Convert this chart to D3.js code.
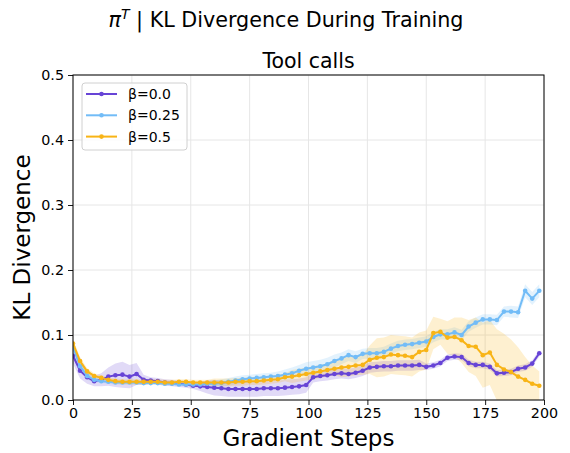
<!DOCTYPE html>
<html lang="en">
  <head>
    <meta charset="utf-8" />
    <title>KL Divergence During Training</title>
    <script src="https://d3js.org/d3.v7.min.js"></script>
    <style>
      body { margin: 0; background: #fff; }
      text { font-family: "DejaVu Sans", sans-serif; fill: #000; }
    </style>
  </head>
  <body>
    <script>
      // gradient steps where a point was logged
      var steps = [0, 3, 6, 9, 12, 15, 18, 21, 24, 27, 30, 33, 36, 39, 42, 45, 48, 51, 54, 57,
        60, 63, 66, 69, 72, 75, 78, 81, 84, 87, 90, 93, 96, 99, 102, 105, 108, 111, 114, 117,
        120, 123, 126, 129, 132, 135, 138, 141, 144, 147, 150, 153, 156, 159, 162, 165, 168, 171, 174, 177,
        180, 183, 186, 189, 192, 195, 198];

      var labels = ["β=0.0", "β=0.25", "β=0.5"];
      var xTicks = [0, 25, 50, 75, 100, 125, 150, 175, 200];
      var yTicks = [0.0, 0.1, 0.2, 0.3, 0.4, 0.5];

      var beta0 = [0.068, 0.045, 0.035, 0.029, 0.031, 0.036, 0.038, 0.039, 0.036, 0.040,
        0.031, 0.030, 0.029, 0.027, 0.026, 0.025, 0.024, 0.022, 0.021, 0.020,
        0.019, 0.018, 0.017, 0.017, 0.017, 0.017, 0.017, 0.018, 0.018, 0.018,
        0.019, 0.020, 0.021, 0.023, 0.035, 0.037, 0.038, 0.040, 0.041, 0.040,
        0.042, 0.045, 0.050, 0.051, 0.052, 0.052, 0.053, 0.053, 0.053, 0.054,
        0.051, 0.053, 0.057, 0.065, 0.067, 0.066, 0.057, 0.054, 0.054, 0.051,
        0.041, 0.042, 0.043, 0.048, 0.050, 0.056, 0.072];
      var beta0Std = [0.012, 0.012, 0.010, 0.008, 0.010, 0.014, 0.018, 0.020, 0.018, 0.017,
        0.008, 0.005, 0.005, 0.005, 0.005, 0.005, 0.005, 0.005, 0.007, 0.010,
        0.012, 0.012, 0.012, 0.012, 0.012, 0.012, 0.012, 0.012, 0.012, 0.012,
        0.012, 0.012, 0.012, 0.012, 0.008, 0.008, 0.008, 0.008, 0.008, 0.008,
        0.008, 0.008, 0.008, 0.008, 0.008, 0.008, 0.008, 0.008, 0.008, 0.008,
        0.005, 0.005, 0.005, 0.005, 0.005, 0.005, 0.005, 0.005, 0.005, 0.005,
        0.005, 0.005, 0.005, 0.005, 0.005, 0.005, 0.005];

      var beta25 = [0.082, 0.052, 0.037, 0.031, 0.029, 0.028, 0.027, 0.027, 0.027, 0.027,
        0.026, 0.026, 0.026, 0.025, 0.025, 0.024, 0.024, 0.024, 0.024, 0.025,
        0.025, 0.026, 0.028, 0.030, 0.032, 0.033, 0.034, 0.035, 0.036, 0.037,
        0.039, 0.041, 0.045, 0.048, 0.050, 0.052, 0.055, 0.060, 0.064, 0.069,
        0.066, 0.071, 0.072, 0.072, 0.074, 0.079, 0.083, 0.085, 0.086, 0.088,
        0.090, 0.097, 0.101, 0.101, 0.104, 0.100, 0.113, 0.119, 0.124, 0.124,
        0.123, 0.136, 0.136, 0.135, 0.168, 0.156, 0.168];
      var beta25Std = [0.008, 0.008, 0.006, 0.004, 0.003, 0.003, 0.003, 0.003, 0.003, 0.003,
        0.003, 0.003, 0.003, 0.003, 0.003, 0.003, 0.003, 0.003, 0.003, 0.004,
        0.005, 0.006, 0.006, 0.006, 0.006, 0.006, 0.006, 0.006, 0.006, 0.007,
        0.008, 0.009, 0.009, 0.010, 0.010, 0.010, 0.010, 0.010, 0.009, 0.009,
        0.009, 0.008, 0.008, 0.008, 0.008, 0.008, 0.008, 0.008, 0.008, 0.008,
        0.008, 0.008, 0.008, 0.008, 0.008, 0.008, 0.008, 0.008, 0.008, 0.008,
        0.008, 0.008, 0.009, 0.009, 0.010, 0.010, 0.010];

      var beta5 = [0.087, 0.060, 0.044, 0.037, 0.034, 0.031, 0.029, 0.028, 0.028, 0.028,
        0.028, 0.028, 0.028, 0.027, 0.027, 0.028, 0.028, 0.027, 0.027, 0.027,
        0.027, 0.027, 0.027, 0.028, 0.028, 0.029, 0.029, 0.030, 0.031, 0.032,
        0.035, 0.036, 0.038, 0.040, 0.042, 0.044, 0.046, 0.048, 0.050, 0.051,
        0.053, 0.054, 0.062, 0.065, 0.066, 0.070, 0.069, 0.068, 0.066, 0.074,
        0.077, 0.103, 0.105, 0.096, 0.097, 0.092, 0.083, 0.082, 0.069, 0.073,
        0.054, 0.047, 0.043, 0.036, 0.031, 0.025, 0.022];
      var beta5Std = [0.006, 0.006, 0.005, 0.004, 0.004, 0.004, 0.004, 0.004, 0.004, 0.004,
        0.004, 0.004, 0.004, 0.004, 0.004, 0.004, 0.004, 0.004, 0.004, 0.004,
        0.006, 0.006, 0.006, 0.006, 0.006, 0.006, 0.006, 0.006, 0.006, 0.006,
        0.006, 0.010, 0.010, 0.010, 0.010, 0.010, 0.010, 0.010, 0.015, 0.015,
        0.015, 0.015, 0.022, 0.030, 0.030, 0.030, 0.030, 0.030, 0.030, 0.030,
        0.030, 0.025, 0.020, 0.025, 0.030, 0.035, 0.040, 0.045, 0.050, 0.050,
        0.055, 0.055, 0.050, 0.045, 0.035, 0.028, 0.022];

      var colors = ["#6744d6", "#72bcf7", "#f8b416"];
      var series = [
        { name: labels[0], mean: beta0, std: beta0Std, color: colors[0] },
        { name: labels[1], mean: beta25, std: beta25Std, color: colors[1] },
        { name: labels[2], mean: beta5, std: beta5Std, color: colors[2] }
      ];

      var width = 570, height = 453;
      var margin = { top: 75, right: 26, bottom: 53, left: 73 };

      var svg = d3.select("body").append("svg")
        .attr("width", width)
        .attr("height", height);

      var x = d3.scaleLinear().domain([0, 200]).range([margin.left, width - margin.right]);
      var y = d3.scaleLinear().domain([0, 0.5]).range([height - margin.bottom, margin.top]);

      svg.append("clipPath").attr("id", "plot")
        .append("rect")
        .attr("x", margin.left).attr("y", margin.top)
        .attr("width", x(200) - x(0)).attr("height", y(0) - y(0.5));

      // grid
      var grid = svg.append("g");
      grid.selectAll(".gx").data(xTicks).enter().append("line")
        .attr("x1", function (d) { return x(d); }).attr("x2", function (d) { return x(d); })
        .attr("y1", y(0)).attr("y2", y(0.5))
        .attr("stroke", "#e6e6e6").attr("stroke-width", 1);
      grid.selectAll(".gy").data(yTicks).enter().append("line")
        .attr("y1", function (d) { return y(d); }).attr("y2", function (d) { return y(d); })
        .attr("x1", x(0)).attr("x2", x(200))
        .attr("stroke", "#e6e6e6").attr("stroke-width", 1);

      var plot = svg.append("g").attr("clip-path", "url(#plot)");

      var area = d3.area()
        .x(function (d, i) { return x(steps[i]); })
        .y0(function (d) { return y(d[0] - d[1]); })
        .y1(function (d) { return y(d[0] + d[1]); });

      var line = d3.line()
        .x(function (d, i) { return x(steps[i]); })
        .y(function (d) { return y(d); });

      series.forEach(function (s) {
        var pairs = s.mean.map(function (m, i) { return [m, s.std[i]]; });
        plot.append("path")
          .attr("d", area(pairs))
          .attr("fill", s.color)
          .attr("fill-opacity", 0.2);
      });

      series.forEach(function (s) {
        var g = plot.append("g");
        g.append("path")
          .attr("d", line(s.mean))
          .attr("fill", "none")
          .attr("stroke", s.color)
          .attr("stroke-width", 2);
        g.selectAll("circle").data(s.mean).enter().append("circle")
          .attr("cx", function (d, i) { return x(steps[i]); })
          .attr("cy", function (d) { return y(d); })
          .attr("r", 2.3)
          .attr("fill", s.color);
      });

      // axes
      var xAxis = svg.append("g")
        .attr("transform", "translate(0," + y(0) + ")")
        .call(d3.axisBottom(x).tickValues(xTicks).tickSize(5).tickPadding(3));
      var yAxis = svg.append("g")
        .attr("transform", "translate(" + x(0) + ",0)")
        .call(d3.axisLeft(y).tickValues(yTicks).tickSize(5).tickPadding(4).tickFormat(d3.format(".1f")));
      [xAxis, yAxis].forEach(function (a) {
        a.select(".domain").remove();
        a.selectAll("text").attr("font-size", 14.3).attr("font-family", "DejaVu Sans");
        a.selectAll("line").attr("stroke", "#000").attr("stroke-width", 0.9);
      });

      svg.append("rect")
        .attr("x", x(0)).attr("y", y(0.5))
        .attr("width", x(200) - x(0)).attr("height", y(0) - y(0.5))
        .attr("fill", "none").attr("stroke", "#000").attr("stroke-width", 1);

      // titles
      var sup = svg.append("text")
        .attr("x", 286).attr("y", 27)
        .attr("text-anchor", "middle")
        .attr("font-size", 20.7);
      sup.append("tspan").attr("font-style", "italic").text("π");
      sup.append("tspan").attr("font-style", "italic").attr("font-size", 14).attr("dy", -8).text("T");
      sup.append("tspan").attr("dy", 8).text(" | KL Divergence During Training");

      svg.append("text")
        .attr("x", (x(0) + x(200)) / 2).attr("y", 68)
        .attr("text-anchor", "middle")
        .attr("font-size", 20.5)
        .text("Tool calls");

      svg.append("text")
        .attr("x", (x(0) + x(200)) / 2).attr("y", 446)
        .attr("text-anchor", "middle")
        .attr("font-size", 23)
        .text("Gradient Steps");

      svg.append("text")
        .attr("transform", "translate(30," + (y(0) + y(0.5)) / 2 + ") rotate(-90)")
        .attr("text-anchor", "middle")
        .attr("font-size", 23)
        .text("KL Divergence");

      // legend
      var legend = svg.append("g").attr("transform", "translate(82,83)");
      legend.append("rect")
        .attr("width", 105).attr("height", 67).attr("rx", 3)
        .attr("fill", "#fff").attr("fill-opacity", 0.8)
        .attr("stroke", "#d0d0d0");
      series.forEach(function (s, i) {
        var row = legend.append("g").attr("transform", "translate(0," + (11 + i * 21.3) + ")");
        row.append("line")
          .attr("x1", 4).attr("x2", 35)
          .attr("stroke", s.color).attr("stroke-width", 2);
        row.append("circle").attr("cx", 19.5).attr("r", 2.3).attr("fill", s.color);
        row.append("text")
          .attr("x", 46).attr("dy", "0.35em")
          .attr("font-size", 14)
          .text(s.name);
      });
    </script>
  </body>
</html>
